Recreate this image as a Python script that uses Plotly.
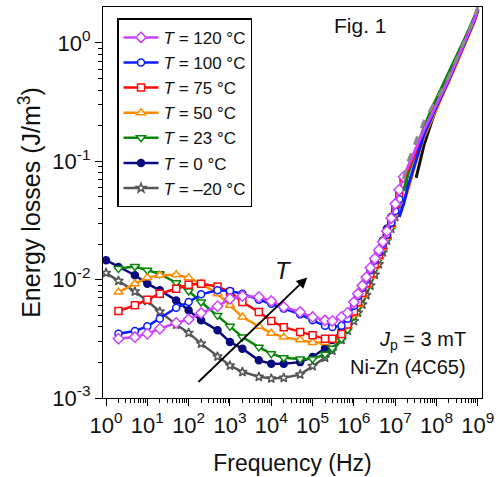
import plotly.graph_objects as go

# ---------------- data ----------------
freq_low = [1, 2, 5, 10, 20, 50, 100, 200, 500, 1e3, 2e3, 5e3, 1e4, 2e4, 5e4,
            1e5, 2e5, 3e5, 5e5, 7e5, 1e6, 1.25e6, 1.6e6, 2e6, 2.5e6, 3.2e6,
            4e6, 5e6, 6.3e6, 8e6, 1e7, 1.25e7, 1.6e7]
freq_high = [1.25e7, 1.6e7, 2e7, 3.2e7, 5e7, 8e7, 1.25e8, 2e8, 3.2e8, 5e8, 8e8, 1e9]

names = ["<i>T</i> = 120 °C", "<i>T</i> = 100 °C", "<i>T</i> = 75 °C",
         "<i>T</i> = 50 °C", "<i>T</i> = 23 °C", "<i>T</i> = 0 °C", "<i>T</i> = –20 °C"]

loss_120 = [None, 3.17e-3, 3.27e-3, 3.49e-3, 3.85e-3, 4.30e-3, 4.62e-3, 5.22e-3, 5.96e-3,
            6.90e-3, 7.28e-3, 7.13e-3, 6.59e-3, 5.87e-3, 5.32e-3, 4.83e-3, 4.53e-3, 4.47e-3,
            4.83e-3, 5.25e-3, 6.46e-3, 7.59e-3, 8.91e-3, 1.05e-2, 1.26e-2, 1.51e-2, 1.78e-2,
            2.09e-2, 2.57e-2, 3.31e-2, 4.37e-2, 5.75e-2, 7.41e-2]
loss_100 = [None, 3.49e-3, 3.68e-3, 4.03e-3, 4.68e-3, 5.79e-3, 6.47e-3, 7.52e-3, 8.13e-3,
            8.02e-3, 7.60e-3, 6.78e-3, 6.27e-3, 5.68e-3, 5.09e-3, 4.53e-3, 4.07e-3, 3.98e-3,
            4.07e-3, 4.68e-3, 6.03e-3, 7.24e-3, 8.51e-3, 1.00e-2, 1.20e-2, 1.45e-2, 1.70e-2,
            2.00e-2, 2.40e-2, 3.02e-2, 3.80e-2, 4.79e-2, None]
loss_75 = [None, 5.43e-3, 6.07e-3, 6.78e-3, 7.60e-3, 8.38e-3, 9.06e-3, 9.25e-3, 8.77e-3,
           7.85e-3, 6.47e-3, 5.32e-3, 4.47e-3, 3.97e-3, 3.61e-3, 3.39e-3, 3.16e-3, 3.16e-3,
           3.47e-3, 4.17e-3, 5.37e-3, 6.46e-3, 7.76e-3, 9.33e-3, 1.12e-2, 1.35e-2, 1.62e-2,
           1.95e-2, 2.40e-2, 3.02e-2, 3.89e-2, 5.01e-2, 6.46e-2]
loss_50 = [None, 7.85e-3, 9.25e-3, 1.04e-2, 1.09e-2, 1.10e-2, 1.04e-2, 9.25e-3, 7.60e-3,
           6.07e-3, 4.83e-3, 4.03e-3, 3.53e-3, 3.27e-3, 3.10e-3, 2.95e-3, 2.95e-3, 3.09e-3,
           3.47e-3, 4.07e-3, 5.13e-3, 6.17e-3, 7.41e-3, 8.91e-3, 1.07e-2, 1.29e-2, 1.55e-2,
           1.86e-2, 2.29e-2, 2.88e-2, 3.63e-2, 4.57e-2, None]
loss_23 = [None, 1.24e-2, 1.29e-2, 1.20e-2, 1.12e-2, 9.42e-3, 8.02e-3, 6.47e-3, 4.99e-3,
           4.03e-3, 3.27e-3, 2.69e-3, 2.37e-3, 2.19e-3, 2.14e-3, 2.14e-3, 2.34e-3, 2.63e-3,
           3.16e-3, 3.80e-3, 4.90e-3, 5.89e-3, 7.08e-3, 8.51e-3, 1.02e-2, 1.23e-2, 1.48e-2,
           1.78e-2, 2.19e-2, 2.75e-2, 3.55e-2, 4.57e-2, None]
loss_0 = [1.46e-2, 1.28e-2, 1.09e-2, 9.25e-3, 8.13e-3, 6.68e-3, 5.51e-3, 4.53e-3, 3.73e-3,
          2.97e-3, 2.61e-3, 2.08e-3, 1.95e-3, 1.95e-3, 2.01e-3, 2.22e-3, 2.63e-3, 3.09e-3,
          3.72e-3, 4.47e-3, 5.62e-3, 6.61e-3, 7.76e-3, 9.33e-3, 1.15e-2, 1.41e-2, 1.74e-2,
          2.14e-2, 2.69e-2, 3.39e-2, 4.27e-2, 5.50e-2, 7.08e-2]
loss_m20 = [1.14e-2, 9.77e-3, 7.94e-3, 6.61e-3, 5.37e-3, 4.17e-3, 3.55e-3, 2.88e-3, 2.24e-3,
            1.88e-3, 1.66e-3, 1.51e-3, 1.46e-3, 1.48e-3, 1.58e-3, 1.86e-3, 2.19e-3, 2.51e-3,
            3.09e-3, 3.72e-3, 4.47e-3, 5.25e-3, 6.17e-3, 7.41e-3, 8.91e-3, 1.10e-2, 1.35e-2,
            1.70e-2, 2.14e-2, 2.69e-2, 3.39e-2, 4.27e-2, None]

# high-frequency branch (lines only)
hi_120 = [None, 0.0741, 0.0891, 0.129, 0.186, 0.257, 0.355, 0.501, 0.741, 1.05, 1.55, 1.95]
hi_100 = [0.0339, 0.0437, 0.0603, 0.105, 0.170, 0.245, 0.343, 0.490, 0.724, 1.02, 1.51, 1.91]
hi_75 = [None, 0.0708, 0.0832, 0.120, 0.178, 0.251, 0.347, 0.490, 0.724, 1.02, 1.51, 1.91]
hi_50 = [None, 0.0447, 0.0562, 0.100, 0.162, 0.234, 0.331, 0.468, 0.692, 1.00, 1.48, 1.86]
hi_23 = [None, 0.0562, 0.0759, 0.126, 0.195, 0.288, 0.398, 0.562, 0.813, 1.12, 1.62, 2.00]
hi_0 = [None, None, None, 0.0724, 0.138, 0.229, 0.339, 0.490, 0.724, 1.02, 1.51, 1.91]
hi_m20 = [None, 0.0708, 0.0977, 0.151, 0.219, 0.295, 0.380, 0.525, 0.759, 1.07, 1.58, 2.00]

x_tick_vals = [1, 10, 100, 1e3, 1e4, 1e5, 1e6, 1e7, 1e8, 1e9]
x_tick_text = ["10<sup>%d</sup>" % i for i in range(10)]
y_tick_vals = [1e-3, 1e-2, 1e-1, 1]
y_tick_text = ["10<sup>-3</sup>", "10<sup>-2</sup>", "10<sup>-1</sup>", "10<sup>0</sup>"]

# ---------------- style ----------------
colors = ["#CC44FF", "#0A1EFF", "#FF0A0A", "#FF8C00", "#0A860A", "#0A0A80", "#555555"]
hi_colors = ["#CC44FF", "#0A1EFF", "#FF0A0A", "#FF8C00", "#0A860A", "#111111", "#8A8A8A"]
symbols = ["diamond", "circle", "square", "triangle-up", "triangle-down", "circle", "star"]
sizes = [8, 7, 7, 8, 8, 7, 7]
fills = ["white", "white", "white", "white", "white", "#0A0A80", "white"]
lows = [loss_120, loss_100, loss_75, loss_50, loss_23, loss_0, loss_m20]
highs = [hi_120, hi_100, hi_75, hi_50, hi_23, hi_0, hi_m20]

FONT = "Liberation Sans, Arial, sans-serif"

fig = go.Figure()
order = list(range(6, -1, -1))
for i in order:
    fig.add_trace(go.Scatter(
        x=freq_low, y=lows[i], mode="lines+markers", name=names[i],
        line=dict(color=colors[i], width=2.5),
        marker=dict(symbol=symbols[i], size=sizes[i], color=fills[i],
                    line=dict(color=colors[i], width=1.5))))
for i in [5, 4, 3, 2, 1, 0, 6]:
    fig.add_trace(go.Scatter(
        x=freq_high, y=highs[i], mode="lines", showlegend=False, hoverinfo="skip",
        line=dict(color=hi_colors[i], width=3, dash="dash" if i == 6 else "solid")))

minor_x = [m * 10 ** d for d in range(0, 9) for m in range(2, 10)]
minor_y = [m * 10 ** d for d in range(-3, 0) for m in range(2, 10)]

fig.update_layout(
    width=501, height=477,
    margin=dict(l=103, r=19, t=7, b=79, autoexpand=False),
    paper_bgcolor="white", plot_bgcolor="white",
    font=dict(family=FONT, size=22, color="#111111"),
    legend=dict(x=0.037, y=0.971, xanchor="left", yanchor="top",
                bgcolor="white", bordercolor="black", borderwidth=1.5,
                font=dict(size=17), traceorder="reversed", itemwidth=35),
    xaxis=dict(type="log", range=[-0.073, 9.10], tickmode="array",
               tickvals=x_tick_vals, ticktext=x_tick_text, automargin=False,
               ticks="outside", ticklen=7, tickwidth=1.2, tickcolor="black",
               showline=True, linecolor="black", linewidth=1.2, mirror=True,
               showgrid=False, zeroline=False,
               minor=dict(tickmode="array", tickvals=minor_x, ticks="outside",
                          ticklen=4, tickcolor="black", showgrid=False),
               title=dict(text="Frequency (Hz)", font=dict(size=23), standoff=18)),
    yaxis=dict(type="log", range=[-3, 0.304], tickmode="array",
               tickvals=y_tick_vals, ticktext=y_tick_text, automargin=False,
               ticks="outside", ticklen=7, tickwidth=1.2, tickcolor="black",
               showline=True, linecolor="black", linewidth=1.2, mirror=True,
               showgrid=False, zeroline=False,
               minor=dict(tickmode="array", tickvals=minor_y, ticks="outside",
                          ticklen=4, tickcolor="black", showgrid=False),
               title=dict(text="Energy losses (J/m<sup>3</sup>)", font=dict(size=25), standoff=4)),
)

fig.add_annotation(x=4.87, y=-1.981, ax=2.20, ay=-2.877, xref="x", yref="y",
                   axref="x", ayref="y", showarrow=True, arrowhead=2, arrowsize=1.2,
                   arrowwidth=1.8, arrowcolor="black", text="")
fig.add_annotation(x=4.29, y=-1.92, xref="x", yref="y", showarrow=False,
                   text="<i>T</i>", font=dict(size=24))
fig.add_annotation(x=6.15, y=0.15, xref="x", yref="y", showarrow=False,
                   text="Fig. 1", font=dict(size=21))
fig.add_annotation(x=8.77, y=-2.513, xref="x", yref="y", showarrow=False, xanchor="right",
                   text="<i>J</i><sub>p</sub> = 3 mT", font=dict(size=20))
fig.add_annotation(x=8.77, y=-2.741, xref="x", yref="y", showarrow=False, xanchor="right",
                   text="Ni-Zn (4C65)", font=dict(size=20))

fig.write_html("out.html")
